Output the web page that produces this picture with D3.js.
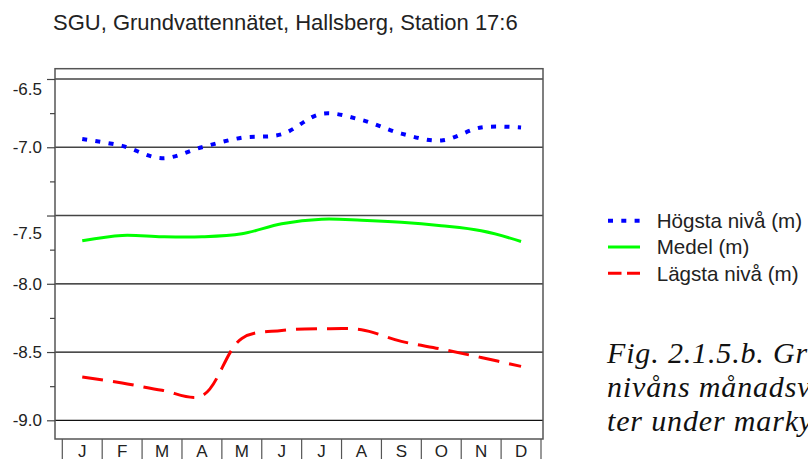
<!DOCTYPE html>
<html>
<head>
<meta charset="utf-8">
<script src="https://cdn.jsdelivr.net/npm/d3@7"></script>
<style>
  html, body { margin: 0; padding: 0; background: #fff; }
  svg { display: block; }
</style>
</head>
<body>
<svg id="chart" width="808" height="459"></svg>
<script>
// --- data ---
const months = ["J", "F", "M", "A", "M", "J", "J", "A", "S", "O", "N", "D"];
const hogsta = [-6.94, -6.99, -7.08, -7.00, -6.93, -6.905, -6.755, -6.80, -6.90, -6.95, -6.855, -6.855];
const medel = [-7.685, -7.646, -7.656, -7.656, -7.634, -7.561, -7.527, -7.534, -7.549, -7.575, -7.612, -7.69];
const lagsta = [-8.683, -8.727, -8.78, -8.82, -8.40, -8.342, -8.33, -8.337, -8.422, -8.478, -8.54, -8.605];
const majorTicks = [-6.5, -7.0, -7.5, -8.0, -8.5, -9.0];
const minorTicks = [-6.75, -7.25, -7.75, -8.25, -8.75];
const legendLabels = ["Högsta nivå (m)", "Medel (m)", "Lägsta nivå (m)"];
const title = "SGU, Grundvattennätet, Hallsberg, Station 17:6";
const caption = ["Fig. 2.1.5.b. Grundvatten-", "nivåns månadsvärden", "ter under markytan"];

// --- layout ---
const FRAME = { left: 55, right: 543, top: 68.7, bottom: 439 };
const SANS = "'Liberation Sans', Arial, sans-serif";

const svg = d3.select("#chart");

const x = d3.scaleBand().domain(d3.range(months.length)).range([62.3, 541]);
const y = d3.scaleLinear().domain([-9.0, -6.5]).range([420.3, 79]);
const cx = (i) => x(i) + x.bandwidth() / 2;

// title
svg.append("text")
    .attr("x", 53)
    .attr("y", 30)
    .style("font-family", SANS)
    .style("font-size", "22px")
    .style("fill", "#222")
    .text(title);

// grid lines
svg.append("g")
    .selectAll("line")
    .data(majorTicks)
    .enter()
    .append("line")
    .attr("x1", FRAME.left)
    .attr("x2", FRAME.right)
    .attr("y1", (d) => y(d))
    .attr("y2", (d) => y(d))
    .attr("stroke", (d) => (d > -7.75 ? "#444" : "#111"))
    .attr("stroke-width", 1.3);

// frame
svg.append("rect")
    .attr("x", FRAME.left)
    .attr("y", FRAME.top)
    .attr("width", FRAME.right - FRAME.left)
    .attr("height", FRAME.bottom - FRAME.top)
    .attr("fill", "none")
    .attr("stroke", "#555")
    .attr("stroke-width", 1.5);

// y axis: major ticks with labels, minor ticks without
const labelNudge = { "-6.5": 10, "-7.5": 18 };
const yAxis = svg.append("g")
    .attr("transform", `translate(${FRAME.left},0)`)
    .call(d3.axisLeft(y).tickValues(majorTicks).tickSize(8).tickPadding(5)
        .tickFormat((d) => d.toFixed(1)));
yAxis.select(".domain").remove();
yAxis.selectAll("line").attr("stroke", "#444").attr("stroke-width", 1.2);
yAxis.selectAll("text")
    .style("font-family", SANS)
    .style("font-size", "17px")
    .style("fill", "#222")
    .attr("dy", (d) => `${0.32 + (labelNudge[d.toFixed(1)] || 0) / 17}em`);

const yMinor = svg.append("g")
    .attr("transform", `translate(${FRAME.left},0)`)
    .call(d3.axisLeft(y).tickValues(minorTicks).tickSize(5).tickFormat(""));
yMinor.select(".domain").remove();
yMinor.selectAll("line").attr("stroke", "#444").attr("stroke-width", 1.2);

// month axis below the frame
const bounds = d3.range(months.length + 1).map((i) => (i < months.length ? x(i) : x.range()[1]));
svg.append("g")
    .selectAll("line")
    .data(bounds)
    .enter()
    .append("line")
    .attr("x1", (d) => d)
    .attr("x2", (d) => d)
    .attr("y1", FRAME.bottom)
    .attr("y2", 459)
    .attr("stroke", "#555")
    .attr("stroke-width", 1.2);

svg.append("g")
    .selectAll("text")
    .data(months)
    .enter()
    .append("text")
    .attr("x", (d, i) => cx(i))
    .attr("y", 457)
    .attr("text-anchor", "middle")
    .style("font-family", SANS)
    .style("font-size", "17px")
    .style("fill", "#222")
    .text((d) => d);

// series
const series = [
    { values: hogsta, color: "#0000ff", width: 4, dash: "5,8.3", legendDash: "5,8.3" },
    { values: medel, color: "#00ff00", width: 3, dash: null, legendDash: null },
    { values: lagsta, color: "#ff0000", width: 3, dash: "21,10", legendDash: "13.5,5.5" },
];

const line = d3.line()
    .x((d, i) => cx(i))
    .y((d) => y(d))
    .curve(d3.curveCatmullRom);

svg.append("g")
    .selectAll("path")
    .data(series)
    .enter()
    .append("path")
    .attr("d", (d) => line(d.values))
    .attr("fill", "none")
    .attr("stroke", (d) => d.color)
    .attr("stroke-width", (d) => d.width)
    .attr("stroke-dasharray", (d) => d.dash);

// legend
const legend = svg.append("g")
    .selectAll("g")
    .data(series)
    .enter()
    .append("g")
    .attr("transform", (d, i) => `translate(608,${220.7 + i * 26.3})`);

legend.append("line")
    .attr("x1", 0)
    .attr("x2", 32)
    .attr("stroke", (d) => d.color)
    .attr("stroke-width", (d) => d.width)
    .attr("stroke-dasharray", (d) => d.legendDash);

legend.append("text")
    .attr("x", 48.7)
    .attr("y", 7.3)
    .style("font-family", SANS)
    .style("font-size", "20.6px")
    .style("fill", "#222")
    .text((d, i) => legendLabels[i]);

// caption (runs past the right edge, as in the original page)
svg.append("g")
    .selectAll("text")
    .data(caption)
    .enter()
    .append("text")
    .attr("x", 607)
    .attr("y", (d, i) => 363.3 + i * 34)
    .style("font-family", "'Liberation Serif', 'Times New Roman', serif")
    .style("font-style", "italic")
    .style("font-size", "30px")
    .style("letter-spacing", "0.85px")
    .style("fill", "#111")
    .text((d) => d);
</script>
</body>
</html>
